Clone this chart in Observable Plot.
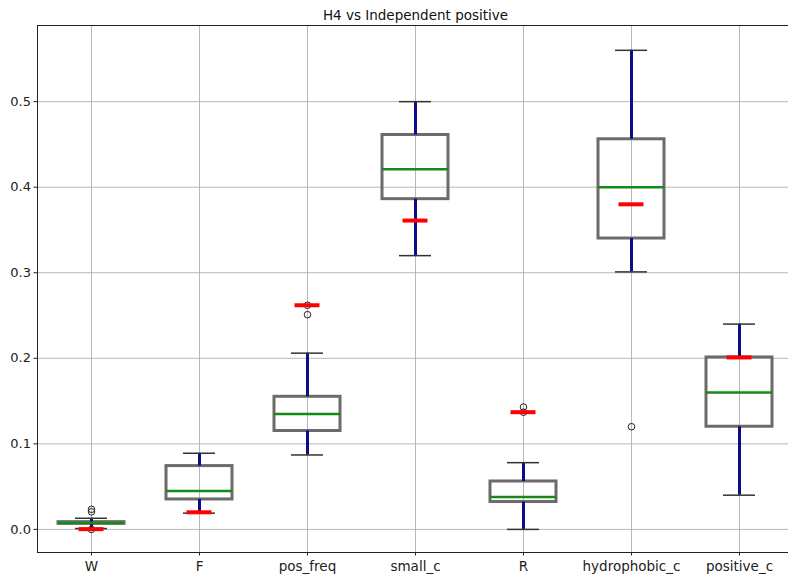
<!DOCTYPE html>
<html>
<head>
<meta charset="utf-8">
<script src="https://cdn.jsdelivr.net/npm/d3@7"></script>
<script src="https://cdn.jsdelivr.net/npm/@observablehq/plot@0.6"></script>
<style>
  html, body { margin: 0; padding: 0; background: #fff; overflow: hidden; }
  #chart svg { display: block; font-family: "DejaVu Sans", sans-serif; }
</style>
</head>
<body>
<div id="chart"></div>
<script>
const title = "H4 vs Independent positive";
const categories = ["W", "F", "pos_freq", "small_c", "R", "hydrophobic_c", "positive_c"];
const whiskerLow  = [0.001, 0.019, 0.087, 0.320, 0.000, 0.301, 0.040];
const q1          = [0.0065, 0.035, 0.115, 0.386, 0.032, 0.340, 0.120];
const medians     = [0.0075, 0.045, 0.135, 0.421, 0.038, 0.400, 0.160];
const q3          = [0.0085, 0.074, 0.155, 0.461, 0.056, 0.456, 0.201];
const whiskerHigh = [0.013, 0.089, 0.206, 0.500, 0.078, 0.560, 0.240];
const reference   = [0.0003, 0.020, 0.262, 0.361, 0.137, 0.380, 0.201];
const outlierCats = ["W", "W", "W", "pos_freq", "pos_freq", "R", "R", "hydrophobic_c"];
const outlierVals = [0.0235, 0.0205, 0.0, 0.262, 0.251, 0.143, 0.137, 0.120];
const yTicks = [0, 0.1, 0.2, 0.3, 0.4, 0.5];

const boxes = categories.map((c, i) => ({
  cat: c, lo: whiskerLow[i], q1: q1[i], med: medians[i], q3: q3[i], hi: whiskerHigh[i], ref: reference[i]
}));
const outliers = outlierCats.map((c, i) => ({cat: c, v: outlierVals[i]}));

const gridColor = "#b0b0b0";
const chart = Plot.plot({
  width: 788,
  height: 578,
  marginTop: 25,
  marginBottom: 26,
  marginLeft: 37,
  marginRight: -5,
  style: {fontFamily: "DejaVu Sans, sans-serif", color: "#222", background: "#fff"},
  x: {type: "band", domain: categories, paddingInner: 0.389, paddingOuter: 0.1945, label: null},
  y: {domain: [-0.027, 0.589], label: null},
  marks: [
    Plot.gridY(yTicks, {stroke: gridColor, strokeOpacity: 1, strokeWidth: 0.9}),
    Plot.ruleX(categories, {x: d => d, stroke: gridColor, strokeWidth: 0.9}),
    Plot.frame({stroke: "#222", strokeWidth: 1}),
    Plot.axisY(yTicks, {tickSize: 3.5, tickPadding: 3, fontSize: 13, tickFormat: d3.format(".1f"), label: null, stroke: "#222"}),
    Plot.axisX(categories, {tickSize: 3.5, tickPadding: 5, fontSize: 13.5, label: null, stroke: "#222"}),
    Plot.barY(boxes, {x: "cat", y1: "q1", y2: "q3", fill: "none", stroke: "#6b6b6b", strokeWidth: 3}),
    Plot.ruleX(boxes, {x: "cat", y1: "q3", y2: "hi", stroke: "#0d0d8a", strokeWidth: 3}),
    Plot.ruleX(boxes, {x: "cat", y1: "lo", y2: "q1", stroke: "#0d0d8a", strokeWidth: 3}),
    Plot.tickY(boxes, {x: "cat", y: "hi", stroke: "#333", strokeWidth: 1.5, insetLeft: 17, insetRight: 17}),
    Plot.tickY(boxes, {x: "cat", y: "lo", stroke: "#333", strokeWidth: 1.5, insetLeft: 17, insetRight: 17}),
    Plot.tickY(boxes, {x: "cat", y: "med", stroke: "#168a16", strokeWidth: 2.5}),
    Plot.dot(outliers, {x: "cat", y: "v", r: 3.3, fill: "none", stroke: "#222", strokeWidth: 1}),
    Plot.tickY(boxes, {x: "cat", y: "ref", stroke: "red", strokeWidth: 4, insetLeft: 20.5, insetRight: 20.5}),
    Plot.text([title], {frameAnchor: "top", lineAnchor: "bottom", dy: -6, fontSize: 13.5, fill: "#111"})
  ]
});
document.getElementById("chart").appendChild(chart);
</script>
</body>
</html>
